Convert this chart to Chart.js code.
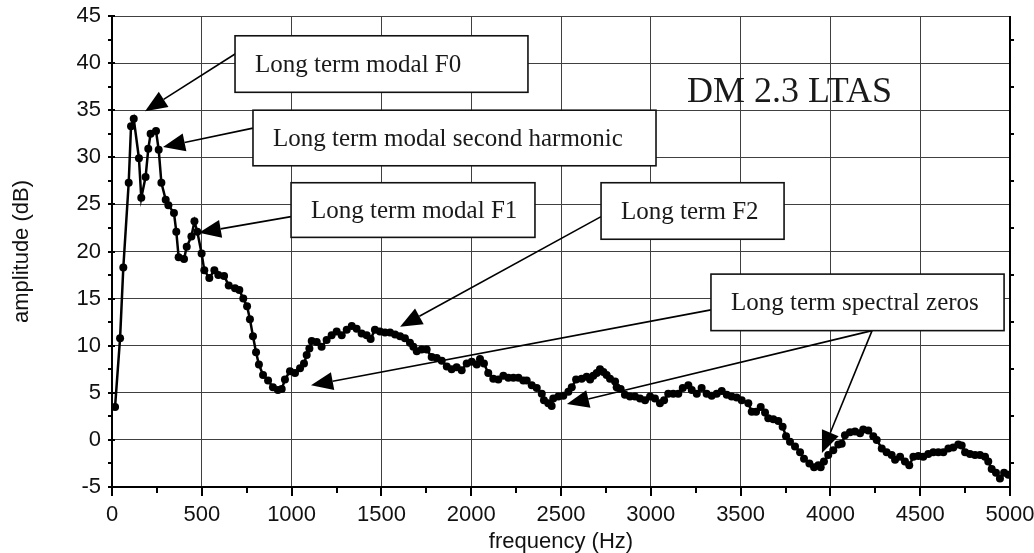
<!DOCTYPE html>
<html><head><meta charset="utf-8">
<script src="https://cdn.jsdelivr.net/npm/chart.js@4.4.1/dist/chart.umd.min.js"></script>
<style>html,body{margin:0;padding:0;background:#fff;}#wrap{width:1034px;height:553px;}</style>
</head><body><div id="wrap"><canvas id="c" width="1034" height="553"></canvas></div>
<script>
// ---- data ----
const freqHz = [17,45,63,93,106,121,150,163,187,202,215,245,260,275,299,314,345,358,371,401,416,442,459,475,499,514,542,570,592,624,650,685,709,731,
752,768,785,802,818,841,869,896,924,945,963,991,1019,1047,1069,1084,1099,1112,1140,1167,1195,1223,1251,1279,1307,1335,1362,1390,1418,1440,1464,1492,1520,1548,1576,1604,1631,1659,1678,1697,1724,1752,1780,1808,1836,1864,1891,1919,1947,1975,2003,2031,2049,2071,2095,2123,2151,2179,2207,2235,2263,2290,2309,2337,2365,2393,2405,2429,2448,2457,2485,2513,2541,2560,2584,2615,2643,2662,2680,2699,2717,2736,2754,2773,2801,2810,2832,2856,2884,2912,2940,2968,2996,3023,3051,3074,3097,3125,3153,3178,3209,3228,3256,3283,3311,3339,3367,3395,3423,3450,3478,3506,3543,3562,3586,3612,3636,3654,3682,3710,3734,3753,3775,3803,3831,3853,3883,3909,3933,3946,3964,3988,4016,4044,4063,4081,4109,4137,4165,4183,4211,4239,4258,4286,4313,4341,4360,4388,4415,4439,4462,4490,4517,4545,4573,4601,4629,4657,4684,4712,4731,4750,4777,4805,4833,4861,4879,4898,4922,4944,4967,4991];
const ampDb = [3.5,10.8,18.3,27.3,33.3,34.1,29.9,25.7,27.9,30.9,32.5,32.8,30.8,27.3,25.5,24.9,24.1,22.1,19.4,19.2,20.5,21.6,23.2,22.1,19.8,18.0,17.2,18.0,17.5,17.4,16.4,16.1,15.9,15.0,
14.2,12.8,11.0,9.3,8.0,6.9,6.3,5.6,5.3,5.4,6.4,7.3,7.1,7.6,8.1,9.0,9.7,10.5,10.4,9.9,10.6,11.1,11.5,11.1,11.7,12.1,11.8,11.3,11.1,10.7,11.7,11.5,11.4,11.4,11.2,11.0,10.8,10.3,9.9,9.4,9.6,9.6,8.8,8.7,8.4,7.8,7.5,7.7,7.4,8.1,8.3,8.0,8.6,8.1,7.1,6.5,6.4,6.8,6.6,6.6,6.6,6.3,6.3,5.8,5.5,4.9,4.2,3.9,3.6,4.4,4.6,4.7,5.1,5.6,6.4,6.5,6.7,6.4,6.8,7.1,7.5,7.2,6.9,6.5,6.2,5.6,5.4,4.8,4.6,4.6,4.4,4.2,4.6,4.4,3.9,4.2,4.9,4.9,4.9,5.5,5.8,5.3,4.9,5.5,4.9,4.7,4.9,5.2,4.8,4.6,4.5,4.2,3.9,3.0,3.0,3.5,2.9,2.3,2.2,2.0,1.4,0.4,-0.2,-0.7,-1.3,-2.0,-2.5,-2.9,-2.7,-2.9,-2.3,-1.6,-1.1,-0.5,-0.4,0.5,0.8,0.9,0.7,1.1,1.0,0.4,0.0,-0.9,-1.3,-1.6,-2.1,-1.8,-2.3,-2.7,-1.8,-1.7,-1.8,-1.5,-1.3,-1.3,-1.3,-0.9,-0.8,-0.5,-0.6,-1.3,-1.5,-1.6,-1.6,-1.8,-2.3,-3.1,-3.5,-4.1,-3.5,-3.7];
const xTickValues = [0,500,1000,1500,2000,2500,3000,3500,4000,4500,5000];
const yTickValues = [-5,0,5,10,15,20,25,30,35,40,45];
const boxLabels = ['Long term modal F0','Long term modal second harmonic','Long term modal F1','Long term F2','Long term spectral zeros'];
const chartLabel = 'DM 2.3 LTAS';

// ---- annotation layout (data coordinates) ----
const boxes = [
  {text: boxLabels[0], x0: 685, x1: 2316, y0: 42.9, y1: 36.9},
  {text: boxLabels[1], x0: 785, x1: 3029, y0: 35.0, y1: 29.1},
  {text: boxLabels[2], x0: 997, x1: 2355, y0: 27.3, y1: 21.5},
  {text: boxLabels[3], x0: 2723, x1: 3742, y0: 27.3, y1: 21.3},
  {text: boxLabels[4], x0: 3335, x1: 4967, y0: 17.6, y1: 11.6}
];
const arrows = [
  {from: [696, 41.1], to: [184, 34.9]},
  {from: [785, 33.1], to: [284, 31.1]},
  {from: [997, 23.7], to: [484, 22.0]},
  {from: [2723, 23.7], to: [1604, 12.0]},
  {from: [3335, 13.8], to: [1108, 5.8]},
  {from: [4232, 11.6], to: [2533, 3.8]},
  {from: [4232, 11.6], to: [3953, -1.4]}
];
const titlePos = {x: 3202, y: 37.0};

const sans = 'Liberation Sans, Arial, sans-serif';
const serif = 'Liberation Serif, Times New Roman, serif';

const annotPlugin = {
  id: 'annot',
  afterDatasetsDraw(chart) {
    const {ctx, chartArea: ca, scales: {x, y}} = chart;
    ctx.save();
    ctx.strokeStyle = '#000';
    ctx.lineWidth = 2;
    ctx.beginPath(); ctx.moveTo(ca.right, ca.top); ctx.lineTo(ca.right, ca.bottom + 1); ctx.stroke();
    const yMin = yTickValues[0], yMax = yTickValues[yTickValues.length - 1];
    for (let v = yMin; v <= yMax + 0.01; v += 2.5) {
      const py = Math.round(y.getPixelForValue(v));
      const major = Math.abs(v % 5) < 0.01;
      ctx.beginPath();
      if (major) { ctx.moveTo(ca.left - 4, py); ctx.lineTo(ca.left + 3, py); }
      else { ctx.moveTo(ca.left - 4, py); ctx.lineTo(ca.left, py); }
      ctx.stroke();
      if (!major) {
        ctx.beginPath(); ctx.moveTo(ca.right, py); ctx.lineTo(ca.right + 4, py); ctx.stroke();
      }
    }
    const xMax = xTickValues[xTickValues.length - 1];
    for (let v = 0; v <= xMax + 0.1; v += 250) {
      const px = Math.round(x.getPixelForValue(v));
      const major = v % 500 === 0;
      ctx.beginPath();
      ctx.moveTo(px, ca.bottom); ctx.lineTo(px, ca.bottom + (major ? 9 : 6));
      ctx.stroke();
    }
    ctx.fillStyle = '#000';
    ctx.lineWidth = 1.6;
    arrows.forEach(a => {
      const x0 = x.getPixelForValue(a.from[0]), y0 = y.getPixelForValue(a.from[1]);
      const x1 = x.getPixelForValue(a.to[0]), y1 = y.getPixelForValue(a.to[1]);
      const ang = Math.atan2(y1 - y0, x1 - x0);
      const L = 22, W = 9;
      const bx = x1 - L * Math.cos(ang), by = y1 - L * Math.sin(ang);
      ctx.beginPath(); ctx.moveTo(x0, y0); ctx.lineTo(bx, by); ctx.stroke();
      ctx.beginPath();
      ctx.moveTo(x1, y1);
      ctx.lineTo(bx + W * Math.sin(ang), by - W * Math.cos(ang));
      ctx.lineTo(bx - W * Math.sin(ang), by + W * Math.cos(ang));
      ctx.closePath(); ctx.fill();
    });
    ctx.font = '25px ' + serif;
    ctx.textBaseline = 'middle';
    ctx.textAlign = 'left';
    boxes.forEach(b => {
      const bx0 = x.getPixelForValue(b.x0), bx1 = x.getPixelForValue(b.x1);
      const by0 = y.getPixelForValue(b.y0), by1 = y.getPixelForValue(b.y1);
      ctx.fillStyle = '#fff';
      ctx.fillRect(bx0, by0, bx1 - bx0, by1 - by0);
      ctx.strokeStyle = '#111';
      ctx.lineWidth = 1.6;
      ctx.strokeRect(bx0, by0, bx1 - bx0, by1 - by0);
      ctx.fillStyle = '#1a1a1a';
      ctx.fillText(b.text, bx0 + 20, (by0 + by1) / 2 + 1);
    });
    ctx.font = '36px ' + serif;
    ctx.fillStyle = '#1a1a1a';
    ctx.fillText(chartLabel, x.getPixelForValue(titlePos.x), y.getPixelForValue(titlePos.y) + 1);
    ctx.restore();
  }
};

const points = freqHz.map((f, i) => ({x: f, y: ampDb[i]}));

new Chart(document.getElementById('c'), {
  type: 'scatter',
  data: {datasets: [{
    data: points,
    showLine: true,
    borderColor: '#000',
    borderWidth: 2.5,
    pointRadius: 4,
    pointBackgroundColor: '#000',
    pointBorderWidth: 0,
    tension: 0
  }]},
  options: {
    responsive: false,
    animation: false,
    events: [],
    layout: {padding: {top: 16, right: 24, left: 0, bottom: 0}},
    plugins: {legend: {display: false}, tooltip: {enabled: false}},
    scales: {
      x: {
        type: 'linear', min: 0, max: 5000,
        afterBuildTicks: s => { s.ticks = xTickValues.map(v => ({value: v})); },
        ticks: {color: '#111', font: {family: sans, size: 22}, padding: 15, maxRotation: 0, autoSkip: false,
                callback: v => String(v)},
        grid: {color: '#404040', lineWidth: 1, drawTicks: false},
        border: {color: '#000', width: 2},
        title: {display: true, text: 'frequency (Hz)', color: '#111', font: {family: sans, size: 22, lineHeight: 1}, padding: {top: 0, bottom: 0}},
        afterFit: s => { s.height = 66; s.paddingLeft = 0; s.paddingRight = 0; }
      },
      y: {
        min: -5, max: 45,
        afterBuildTicks: s => { s.ticks = yTickValues.map(v => ({value: v})); },
        ticks: {color: '#111', font: {family: sans, size: 22}, padding: 11, autoSkip: false,
                callback: v => String(v)},
        grid: {color: '#404040', lineWidth: 1, drawTicks: false},
        border: {color: '#000', width: 2},
        title: {display: true, text: 'amplitude (dB)', color: '#111', font: {family: sans, size: 22, lineHeight: 1}, padding: {top: 11, bottom: 0}},
        afterFit: s => { s.width = 112; s.paddingTop = 0; s.paddingBottom = 0; }
      }
    }
  },
  plugins: [annotPlugin]
});
</script>
</body></html>
